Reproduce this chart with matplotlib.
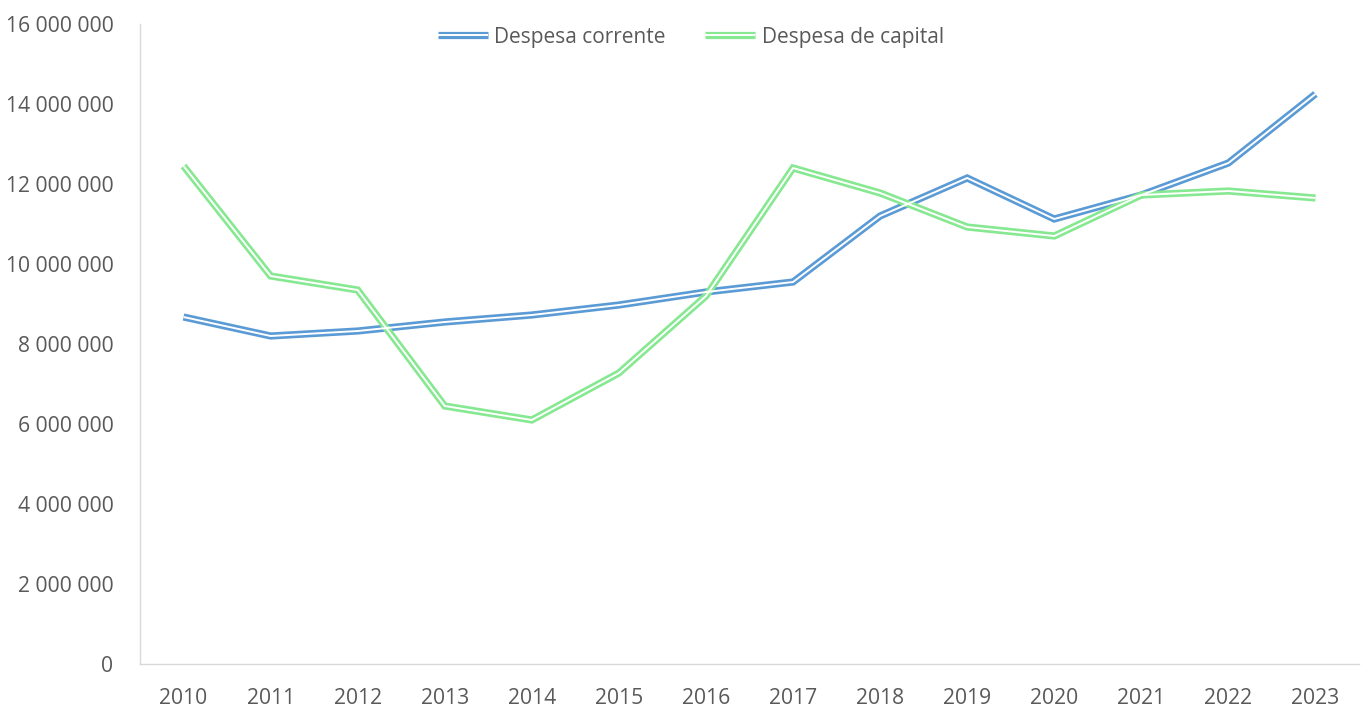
"""Despesa corrente vs despesa de capital, 2010-2023 (double-line Excel style)."""

import matplotlib

matplotlib.use("Agg")
import matplotlib.pyplot as plt
from matplotlib.lines import Line2D
from matplotlib.ticker import FuncFormatter

plt.rcParams["font.family"] = ["Open Sans", "DejaVu Sans"]

TEXT = "#595959"
AXIS = "#d9d9d9"

years = [str(y) for y in range(2010, 2024)]
despesa_corrente = [
    8675000, 8200000, 8325000, 8550000, 8725000, 8975000, 9300000,
    9550000, 11200000, 12150000, 11125000, 11725000, 12525000, 14250000,
]
despesa_capital = [
    12450000, 9700000, 9350000, 6450000, 6100000, 7275000, 9200000,
    12400000, 11775000, 10925000, 10700000, 11725000, 11825000, 11650000,
]
series = [
    ("Despesa corrente", despesa_corrente, "#5b9bd5"),
    ("Despesa de capital", despesa_capital, "#86e891"),
]


def thousands(v, _pos):
    return f"{int(v):,}".replace(",", " ")


fig = plt.figure(figsize=(13.66, 7.07), dpi=100)
ax = fig.add_axes([140 / 1366, 43 / 707, 1219 / 1366, 640 / 707])

x = range(len(years))
for name, vals, color in series:
    # compound "double" line: wide coloured stroke with a thin white core
    ax.plot(x, vals, color=color, lw=5.2, solid_joinstyle="miter",
            solid_capstyle="butt", zorder=3)
    ax.plot(x, vals, color="white", lw=1.4, solid_joinstyle="miter",
            solid_capstyle="butt", zorder=4)

ax.set_xlim(-0.5, len(years) - 0.5)
ax.set_ylim(0, 16000000)
ax.set_yticks(range(0, 16000001, 2000000))
ax.yaxis.set_major_formatter(FuncFormatter(thousands))
ax.set_xticks(list(x), years)
ax.tick_params(length=0, labelsize=15.2, labelcolor=TEXT)
ax.tick_params(axis="y", pad=19)
ax.tick_params(axis="x", pad=17)

for spine in ("top", "right"):
    ax.spines[spine].set_visible(False)
for spine in ("left", "bottom"):
    ax.spines[spine].set_color(AXIS)
    ax.spines[spine].set_linewidth(1.0)

handles = []
for name, _vals, color in series:
    handles.append(
        (Line2D([], [], color=color, lw=5.2, solid_capstyle="butt"),
         Line2D([], [], color="white", lw=1.4, solid_capstyle="butt"))
    )
ax.legend(handles, [s[0] for s in series], loc="upper center",
          bbox_to_anchor=(0.452, 1.025), ncol=2, frameon=False,
          fontsize=15, labelcolor=TEXT, handlelength=2.4,
          handletextpad=0.3, columnspacing=1.9)

fig.savefig("out.png")
